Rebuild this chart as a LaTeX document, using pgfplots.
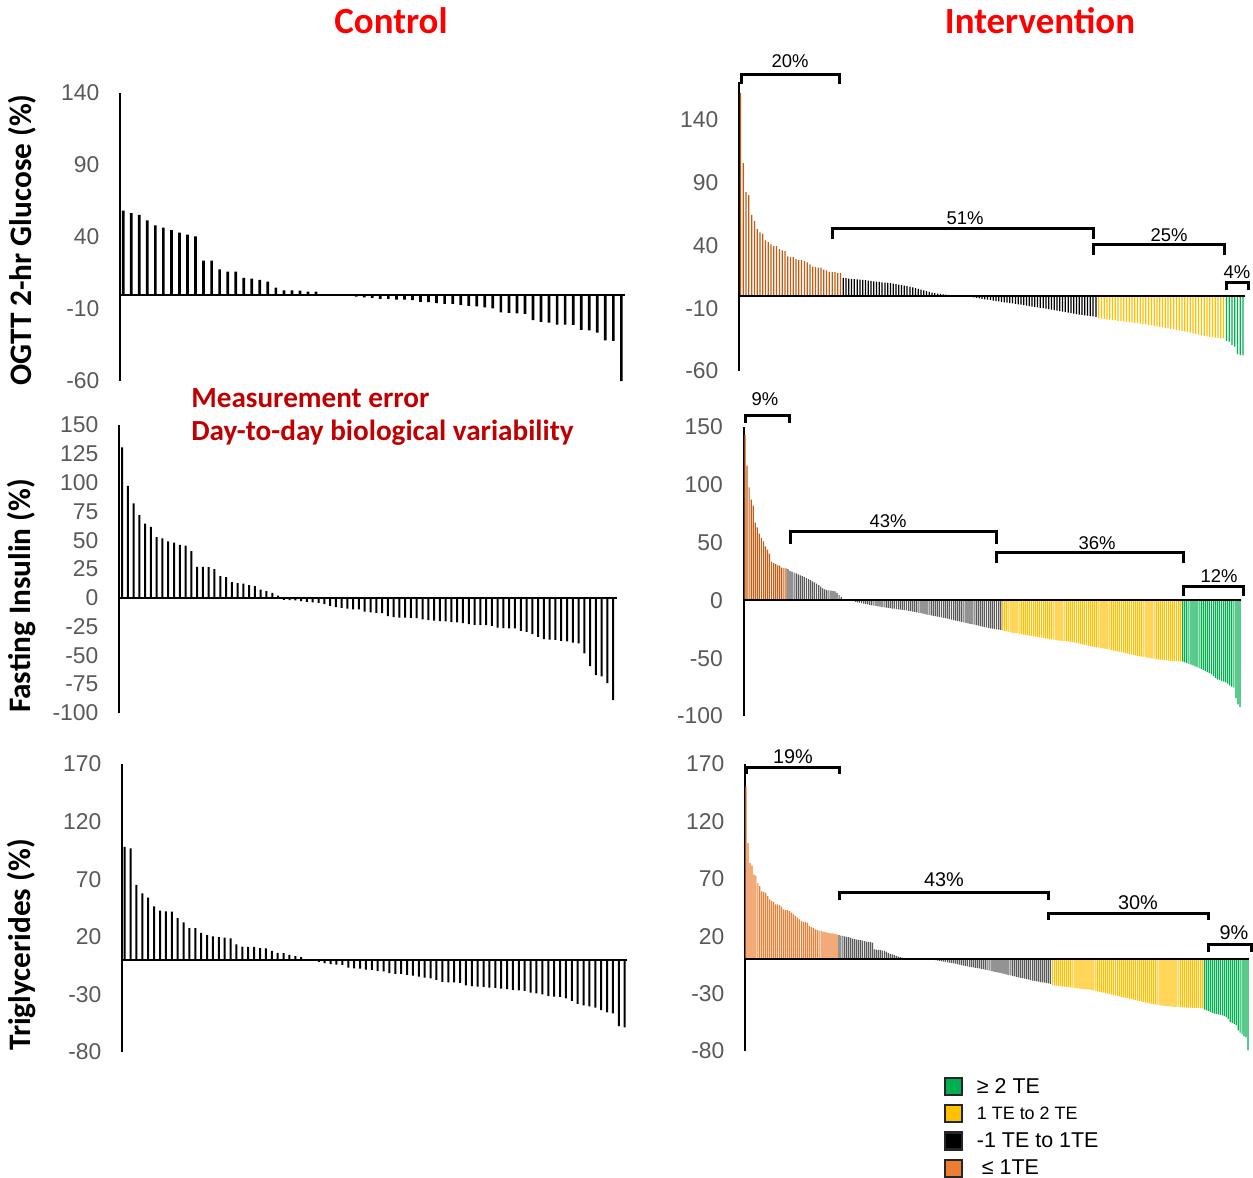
\documentclass[border=0pt]{standalone}
\usepackage{pgfplots}
\pgfplotsset{compat=1.18}
\usepackage{fontspec}
\setmainfont{Liberation Sans}
\newfontfamily\calibri{Carlito}

\definecolor{teGreen}{HTML}{00B050}
\definecolor{teYellow}{HTML}{FFC000}
\definecolor{teOrange}{HTML}{ED7D31}
\definecolor{teOrangeDark}{HTML}{C55A11}
\definecolor{teGray}{HTML}{595959}
\definecolor{tickGray}{HTML}{595959}
\definecolor{titleRed}{HTML}{FF0000}
\definecolor{noteRed}{HTML}{C00000}

\pgfplotsset{
  waterfall/.style={
    scale only axis,
    axis x line=none,
    axis y line*=left,
    axis line style={line width=0.4mm},
    major tick length=0pt,
    yticklabel style={font=\fontsize{13}{13}\selectfont, text=tickGray, xshift=-2.9mm},
    /pgf/number format/assume math mode=true,
    clip=false,
  },
  wbar/.style 2 args={ybar, bar shift=0pt, bar width=#2, fill=#1, draw=none},
}

\begin{document}
\begin{tikzpicture}

% ---------------- Control: OGTT 2-hr glucose ----------------
\begin{axis}[waterfall, at={(24.0mm,-76.2mm)}, width=101.0mm, height=57.6mm,
  xmin=0.6, xmax=63.45, ymin=-60, ymax=140, ytick={-60,-10,40,90,140}]
\addplot[wbar={black}{0.54mm}] table[row sep=\\, header=false, x expr=\coordindex+1, y index=0] {
58.3\\56.5\\55.3\\51.6\\48.1\\46.5\\44.7\\43.1\\41.7\\40.5\\23.6\\23.6\\17.6\\16.0\\16.0\\11.6\\11.1\\10.2\\9.0\\4.9\\3.0\\3.0\\2.8\\2.1\\2.1\\0\\0\\0\\0\\-1.4\\-1.9\\-2.3\\-3.0\\-3.0\\-3.5\\-3.5\\-3.9\\-5.1\\-5.3\\-6.0\\-6.5\\-6.5\\-7.2\\-7.9\\-8.1\\-8.8\\-9.5\\-12.3\\-12.7\\-13.0\\-13.4\\-17.8\\-19.0\\-19.4\\-20.8\\-20.8\\-21.1\\-24.5\\-24.8\\-26.4\\-31.7\\-32.2\\-60.0\\
};
\draw[line width=0.4mm] (axis cs:0.6,0) -- (axis cs:63.45,0);
\end{axis}

% ---------------- Control: fasting insulin ----------------
\begin{axis}[waterfall, at={(23.8mm,-142.6mm)}, width=99.54mm, height=57.6mm,
  xmin=0.48, xmax=86.6, ymin=-100, ymax=150, ytick={-100,-75,...,150}]
\addplot[wbar={black}{0.4mm}] table[row sep=\\, header=false, x expr=\coordindex+1, y index=0] {
130.5\\97.2\\81.9\\71.8\\64.5\\61.6\\52.7\\51.5\\48.9\\48.0\\46.0\\45.4\\40.5\\26.9\\26.9\\26.6\\24.9\\18.8\\17.9\\13.6\\12.7\\12.4\\11.0\\10.1\\7.2\\5.8\\4.3\\2.0\\-1.7\\-2.0\\-2.3\\-2.9\\-3.5\\-4.0\\-4.3\\-5.5\\-6.9\\-8.1\\-8.7\\-9.3\\-10.1\\-10.1\\-11.9\\-12.7\\-13.3\\-13.3\\-15.9\\-16.8\\-17.1\\-17.1\\-17.4\\-17.7\\-18.8\\-19.4\\-19.7\\-20.3\\-20.5\\-21.1\\-21.4\\-22.0\\-22.9\\-23.4\\-23.7\\-23.7\\-24.3\\-25.8\\-26.3\\-26.6\\-26.6\\-28.6\\-29.5\\-31.5\\-33.9\\-35.9\\-36.2\\-36.5\\-37.3\\-37.9\\-38.8\\-39.6\\-48.3\\-59.3\\-67.1\\-68.3\\-74.1\\-88.8\\
};
\draw[line width=0.4mm] (axis cs:0.48,0) -- (axis cs:86.6,0);
\end{axis}

% ---------------- Control: triglycerides ----------------
\begin{axis}[waterfall, at={(24.4mm,-210.4mm)}, width=101.06mm, height=57.6mm,
  xmin=0.54, xmax=86.44, ymin=-80, ymax=170, ytick={-80,-30,...,170}]
\addplot[wbar={black}{0.4mm}] table[row sep=\\, header=false, x expr=\coordindex+1, y index=0] {
98.1\\96.7\\65.0\\57.8\\54.0\\46.5\\42.7\\42.1\\41.8\\36.3\\32.5\\27.6\\27.6\\23.5\\21.5\\20.3\\19.7\\19.2\\18.6\\13.4\\11.6\\11.3\\11.3\\10.2\\9.9\\7.8\\6.1\\5.8\\4.4\\3.2\\2.3\\0\\0\\-1.7\\-2.9\\-3.8\\-4.1\\-4.4\\-6.7\\-7.3\\-7.6\\-8.4\\-8.7\\-9.6\\-9.9\\-11.6\\-12.2\\-12.2\\-13.1\\-13.6\\-14.5\\-15.4\\-16.0\\-17.4\\-19.2\\-19.5\\-19.5\\-20.0\\-22.1\\-22.9\\-23.2\\-23.5\\-24.1\\-24.4\\-25.0\\-25.3\\-26.1\\-26.4\\-27.0\\-28.5\\-29.0\\-29.9\\-31.4\\-31.9\\-32.2\\-33.4\\-35.7\\-38.3\\-39.5\\-40.4\\-41.5\\-43.6\\-45.6\\-46.5\\-57.5\\-58.7\\
};
\draw[line width=0.4mm] (axis cs:0.54,0) -- (axis cs:86.44,0);
\end{axis}

% ---------------- Intervention: OGTT 2-hr glucose ----------------
\begin{axis}[waterfall, at={(147.8mm,-74.2mm)}, width=101.1mm, height=57.72mm,
  xmin=0.46, xmax=182.54, ymin=-60, ymax=170, ytick={-60,-10,40,90,140}]
\addplot[wbar={teOrangeDark}{0.25mm}] table[row sep=\\, header=false, x expr=\coordindex+1, y index=0] {
161.7\\105.7\\82.6\\80.2\\64.5\\59.5\\53.1\\50.5\\49.4\\44.1\\42.8\\40.9\\39.6\\39.6\\37.2\\36.1\\35.6\\31.3\\30.8\\30.8\\29.2\\28.4\\28.4\\27.6\\26.6\\25.0\\23.1\\22.8\\22.3\\22.3\\20.7\\20.2\\19.1\\18.9\\18.9\\18.3\\18.1\\
};
\addplot[wbar={black}{0.25mm}] table[row sep=\\, header=false, x expr=\coordindex+38, y index=0] {
14.3\\14.0\\13.6\\13.5\\13.3\\13.1\\12.9\\12.6\\12.4\\12.1\\11.8\\11.5\\11.2\\11.0\\10.7\\10.4\\10.2\\10.0\\9.7\\9.3\\8.9\\8.5\\8.1\\7.7\\7.2\\6.6\\6.0\\5.4\\4.8\\4.2\\3.6\\3.0\\2.5\\2.1\\1.7\\1.4\\1.1\\0.8\\0.6\\0.4\\
0\\0\\0\\0\\0\\
-0.5\\-0.9\\-1.3\\-1.7\\-2.1\\-2.5\\-2.9\\-3.2\\-3.6\\-3.9\\-4.3\\-4.6\\-5.0\\-5.3\\-5.6\\-5.9\\-6.2\\-6.5\\-6.8\\-7.1\\-7.4\\-7.8\\-8.2\\-8.6\\-8.9\\-9.2\\-9.6\\-9.9\\-10.3\\-10.7\\-11.1\\-11.5\\-11.9\\-12.3\\-12.7\\-13.1\\-13.5\\-13.9\\-14.3\\-14.7\\-15.0\\-15.3\\-15.6\\-15.9\\-16.2\\-16.5\\-16.8\\
};
\addplot[wbar={teYellow}{0.25mm}] table[row sep=\\, header=false, x expr=\coordindex+130, y index=0] {
-17.8\\-18.2\\-18.5\\-18.8\\-19.1\\-19.4\\-19.7\\-20.0\\-20.2\\-20.5\\-20.8\\-21.0\\-21.3\\-21.6\\-21.9\\-22.2\\-22.5\\-22.8\\-23.2\\-23.6\\-24.0\\-24.4\\-24.8\\-25.2\\-25.6\\-26.0\\-26.4\\-26.8\\-27.2\\-27.6\\-28.0\\-28.5\\-29.0\\-29.5\\-30.0\\-30.5\\-31.0\\-31.5\\-32.0\\-32.4\\-32.8\\-33.1\\-33.4\\-33.6\\-33.8\\-34.0\\
};
\addplot[wbar={teGreen}{0.25mm}] table[row sep=\\, header=false, x expr=\coordindex+176, y index=0] {
-35.9\\-36.5\\-39.3\\-40.6\\-46.5\\-47.3\\-47.5\\
};
\draw[line width=0.4mm] (axis cs:0.46,0) -- (axis cs:182.54,0);
\end{axis}

% ---------------- Intervention: fasting insulin ----------------
\begin{axis}[waterfall, at={(148.7mm,-143.2mm)}, width=99.5mm, height=57.8mm,
  xmin=0.27, xmax=243.5, ymin=-100, ymax=150, ytick={-100,-50,...,150}]
\addplot[wbar={teOrangeDark}{0.24mm}] table[row sep=\\, header=false, x expr=\coordindex+1, y index=0] {
143\\116.6\\97.8\\87.1\\81.9\\67.2\\63.2\\57.7\\54.2\\51.1\\46.7\\43.9\\40.4\\33.5\\32.3\\31.7\\30.3\\30.0\\28.3\\28.0\\27.7\\
};
\addplot[wbar={teGray}{0.24mm}] table[row sep=\\, header=false, x expr=\coordindex+22, y index=0] {
27.0\\25.5\\25.0\\24.0\\23.4\\22.5\\21.6\\21.0\\20.3\\19.3\\18.5\\17.6\\16.5\\15.5\\14.5\\13.2\\12.0\\10.5\\9.5\\8.9\\8.7\\8.5\\8.2\\7.8\\6.5\\4.5\\2.8\\1.2\\
0\\0\\0\\0\\0\\
-1.2\\-1.6\\-2.0\\-2.4\\-2.8\\-3.2\\-3.5\\-3.9\\-4.2\\-4.5\\-4.8\\-5.1\\-5.4\\-5.7\\-6.0\\-6.2\\-6.5\\-6.7\\-7.0\\-7.2\\-7.4\\-7.7\\-7.9\\-8.2\\-8.4\\-8.7\\-9.0\\-9.3\\-9.6\\-9.9\\-10.3\\-10.7\\-11.1\\-11.5\\-11.9\\-12.2\\-12.6\\-12.9\\-13.3\\-13.6\\-14.0\\-14.3\\-14.7\\-15.0\\-15.4\\-15.8\\-16.2\\-16.6\\-17.0\\-17.4\\-17.8\\-18.2\\-18.6\\-19.0\\-19.4\\-19.8\\-20.2\\-20.6\\-21.0\\-21.4\\-21.8\\-22.2\\-22.6\\-23.0\\-23.4\\-23.8\\-24.1\\-24.4\\-24.7\\-25.0\\-25.2\\-25.5\\
};
\addplot[wbar={teYellow}{0.24mm}] table[row sep=\\, header=false, x expr=\coordindex+127, y index=0] {
-26.0\\-26.4\\-26.8\\-27.2\\-27.6\\-28.0\\-28.3\\-28.6\\-28.9\\-29.2\\-29.5\\-29.8\\-30.1\\-30.4\\-30.7\\-31.0\\-31.3\\-31.6\\-31.9\\-32.2\\-32.5\\-32.8\\-33.1\\-33.4\\-33.7\\-34.0\\-34.3\\-34.5\\-34.7\\-34.9\\-35.1\\-35.3\\-35.5\\-35.8\\-36.1\\-36.4\\-36.8\\-37.2\\-37.6\\-38.0\\-38.4\\-38.8\\-39.2\\-39.6\\-40.0\\-40.3\\-40.6\\-40.9\\-41.2\\-41.5\\-41.8\\-42.1\\-42.4\\-42.8\\-43.2\\-43.6\\-44.0\\-44.4\\-44.8\\-45.2\\-45.6\\-46.0\\-46.4\\-46.8\\-47.2\\-47.6\\-48.0\\-48.3\\-48.6\\-48.9\\-49.2\\-49.5\\-49.8\\-50.1\\-50.4\\-50.7\\-51.0\\-51.2\\-51.4\\-51.6\\-51.8\\-52.0\\-52.2\\-52.4\\-52.5\\-52.6\\-52.7\\-52.8\\
};
\addplot[wbar={teGreen}{0.24mm}] table[row sep=\\, header=false, x expr=\coordindex+215, y index=0] {
-52.9\\-53.5\\-54.2\\-54.8\\-55.5\\-56.2\\-57.0\\-57.8\\-58.6\\-59.3\\-60.0\\-61.0\\-62.0\\-63.0\\-64.0\\-65.5\\-67.0\\-68.2\\-69.0\\-69.5\\-70.2\\-71.0\\-72.0\\-73.5\\-74.5\\-75.5\\-84.5\\-90.0\\-92.0\\
};
\draw[line width=0.4mm] (axis cs:0.27,0) -- (axis cs:243.5,0);
\end{axis}

% ---------------- Intervention: triglycerides ----------------
\begin{axis}[waterfall, at={(149.0mm,-210.2mm)}, width=100.8mm, height=57.4mm,
  xmin=0.5, xmax=255.5, ymin=-80, ymax=170, ytick={-80,-30,...,170},
  legend style={at={(0.383,-0.0767)}, anchor=north west, draw=none, fill=none,
    cells={anchor=west}, nodes={inner sep=0pt},
    row sep=1.6mm, /tikz/every odd column/.style={column sep=2.8mm}},
  legend image code/.code={\draw[#1, line width=0.45mm, draw=black!85] (0mm,-1.6mm) rectangle (3.4mm,1.8mm);}]
\addplot[wbar={teOrange}{0.24mm}, forget plot] table[row sep=\\, header=false, x expr=\coordindex+1, y index=0] {
150.3\\101.2\\83.8\\81.5\\73.7\\72.8\\66.5\\63.6\\59.0\\58.7\\57.8\\54.9\\52.0\\50.6\\49.7\\47.7\\47.7\\47.1\\45.7\\43.4\\42.8\\42.8\\41.9\\40.5\\39.0\\37.6\\36.1\\34.7\\33.2\\32.4\\32.4\\31.8\\28.9\\28.0\\27.2\\26.0\\25.4\\24.9\\24.9\\24.0\\23.7\\23.1\\22.8\\22.5\\22.5\\22.0\\21.7\\
};
\addplot[wbar={teGray}{0.24mm}, forget plot] table[row sep=\\, header=false, x expr=\coordindex+48, y index=0] {
21.0\\20.6\\20.2\\19.8\\19.5\\19.2\\18.6\\18.0\\17.5\\17.1\\16.8\\16.5\\16.2\\15.8\\15.4\\15.1\\14.8\\14.5\\8.5\\8.3\\8.1\\7.8\\7.5\\7.2\\6.5\\5.5\\4.6\\4.2\\3.5\\2.8\\2.3\\1.8\\1.3\\0.8\\
0\\0\\0\\0\\0\\0\\0\\0\\0\\0\\0\\0\\0\\0\\0\\
-0.8\\-1.2\\-1.5\\-1.8\\-2.1\\-2.4\\-2.7\\-3.0\\-3.3\\-3.6\\-3.9\\-4.3\\-4.7\\-5.1\\-5.5\\-5.9\\-6.3\\-6.6\\-6.9\\-7.2\\-7.5\\-7.8\\-8.1\\-8.4\\-8.7\\-9.0\\-9.4\\-9.8\\-10.2\\-10.6\\-11.0\\-11.4\\-11.8\\-12.2\\-12.6\\-13.0\\-13.4\\-13.8\\-14.2\\-14.6\\-15.0\\-15.4\\-15.8\\-16.2\\-16.6\\-17.0\\-17.4\\-17.8\\-18.2\\-18.6\\-19.0\\-19.3\\-19.6\\-19.9\\-20.2\\-20.5\\-20.8\\-21.1\\-21.4\\
};
\addplot[wbar={teYellow}{0.24mm}, forget plot] table[row sep=\\, header=false, x expr=\coordindex+156, y index=0] {
-22.5\\-22.8\\-23.0\\-23.3\\-23.5\\-23.8\\-24.0\\-24.2\\-24.4\\-24.6\\-24.8\\-25.0\\-25.2\\-25.4\\-25.6\\-25.8\\-26.0\\-26.2\\-26.4\\-26.6\\-26.9\\-27.2\\-27.6\\-28.0\\-28.4\\-28.8\\-29.2\\-29.6\\-30.0\\-30.4\\-30.8\\-31.2\\-31.6\\-32.0\\-32.4\\-32.8\\-33.2\\-33.6\\-34.0\\-34.4\\-34.8\\-35.2\\-35.6\\-36.0\\-36.4\\-36.8\\-37.2\\-37.6\\-38.0\\-38.4\\-38.8\\-39.1\\-39.4\\-39.7\\-40.0\\-40.2\\-40.4\\-40.6\\-40.8\\-41.0\\-41.2\\-41.4\\-41.5\\-41.6\\-41.7\\-41.8\\-41.9\\-42.0\\-42.1\\-42.2\\-42.3\\-42.4\\-42.5\\-42.6\\-42.7\\-42.8\\-42.9\\
};
\addplot[wbar={teGreen}{0.24mm}, forget plot] table[row sep=\\, header=false, x expr=\coordindex+233, y index=0] {
-43.9\\-44.5\\-45.2\\-46.0\\-46.8\\-47.5\\-47.8\\-48.1\\-48.5\\-49.0\\-49.5\\-50.5\\-52.0\\-54.9\\-55.5\\-56.4\\-57.5\\-62.1\\-64.0\\-65.0\\-67.3\\-68.0\\-79.5\\
};
\draw[line width=0.4mm] (axis cs:0.5,0) -- (axis cs:255.5,0);
\addlegendimage{fill=teGreen}
\addlegendentry{\fontsize{12.2}{12}\selectfont ≥ 2 TE}
\addlegendimage{fill=teYellow}
\addlegendentry{\fontsize{10.2}{12}\selectfont 1 TE to 2 TE}
\addlegendimage{fill=black}
\addlegendentry{\fontsize{12.2}{12}\selectfont -1 TE to 1TE}
\addlegendimage{fill=teOrange}
\addlegendentry{\fontsize{12.2}{12}\selectfont \hspace{1mm}≤ 1TE}
\end{axis}

% ---------------- Titles, axis names, notes, brackets ----------------
\begin{scope}[x=0.2mm, y=-0.2mm]
  \node[text=titleRed, font=\calibri\bfseries\fontsize{21}{24}\selectfont] at (391,21) {Control};
  \node[text=titleRed, font=\calibri\bfseries\fontsize{21}{24}\selectfont] at (1040,21) {Intervention};

  \node[rotate=90, font=\calibri\bfseries\fontsize{17.8}{20}\selectfont] at (22,240) {OGTT 2-hr Glucose (\%)};
  \node[rotate=90, font=\calibri\bfseries\fontsize{17.8}{20}\selectfont] at (22,596) {Fasting Insulin (\%)};
  \node[rotate=90, font=\calibri\bfseries\fontsize{17.8}{20}\selectfont] at (22,945) {Triglycerides (\%)};

  \node[anchor=west, inner sep=0pt, text=noteRed, font=\calibri\bfseries\fontsize{16.6}{19}\selectfont] at (191,398) {Measurement error};
  \node[anchor=west, inner sep=0pt, text=noteRed, font=\calibri\bfseries\fontsize{16.6}{19}\selectfont] at (191,433) {Day-to-day biological variability};

  \begin{scope}[line width=0.6mm]
    % OGTT brackets
    \draw (741,84) -- (741,75) -- (839,75) -- (839,84);
    \draw (832,239) -- (832,229) -- (1093,229) -- (1093,239);
    \draw (1093,255) -- (1093,245) -- (1224,245) -- (1224,255);
    \draw (1226,290) -- (1226,282) -- (1248,282) -- (1248,290);
    % insulin brackets
    \draw (745,423) -- (745,415) -- (789,415) -- (789,423);
    \draw (790,544) -- (790,531) -- (996,531) -- (996,544);
    \draw (996,563) -- (996,552) -- (1183,552) -- (1183,563);
    \draw (1183,596) -- (1183,586) -- (1243,586) -- (1243,596);
    % triglyceride brackets
    \draw (746,774) -- (746,767) -- (839,767) -- (839,774);
    \draw (839,900) -- (839,892) -- (1048,892) -- (1048,900);
    \draw (1048,920) -- (1048,913) -- (1208,913) -- (1208,920);
    \draw (1208,952) -- (1208,944) -- (1251,944) -- (1251,952);
  \end{scope}
  \begin{scope}[font=\fontsize{10.5}{12}\selectfont]
    \node at (790,61) {20\%};
    \node at (965,218) {51\%};
    \node at (1169,235) {25\%};
    \node at (1237,272) {4\%};
    \node at (765,399) {9\%};
    \node at (888,521) {43\%};
    \node at (1097,543) {36\%};
    \node at (1219,576) {12\%};
  \end{scope}
  \begin{scope}[font=\fontsize{11.3}{13}\selectfont]
    \node at (793,757) {19\%};
    \node at (944,880) {43\%};
    \node at (1138,903) {30\%};
    \node at (1234,933) {9\%};
  \end{scope}

  % page extent
  \pgfresetboundingbox
  \path[use as bounding box] (0,0) rectangle (1253,1178);
\end{scope}
\end{tikzpicture}
\end{document}
